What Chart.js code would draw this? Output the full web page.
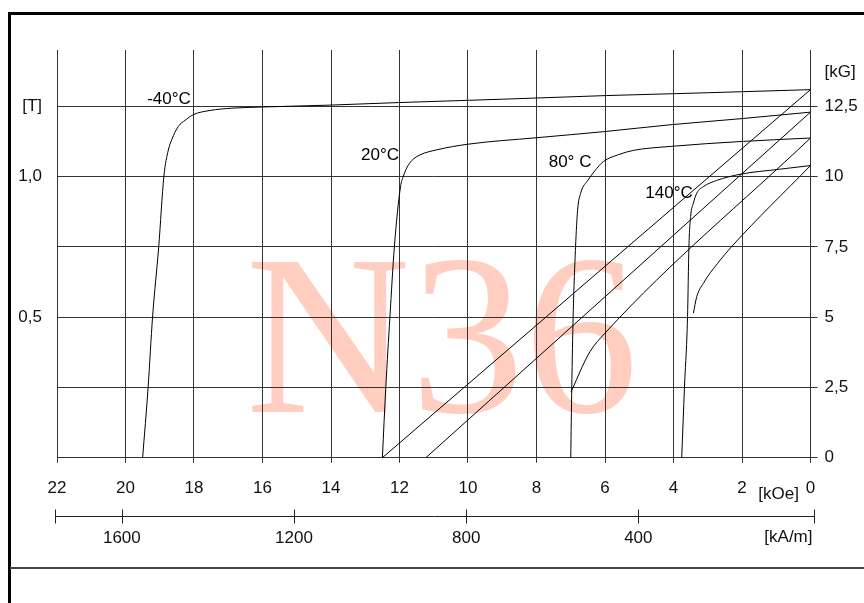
<!DOCTYPE html>
<html lang="en">
<head>
    <title>N36 demagnetization curves</title>
    <script src="https://cdn.jsdelivr.net/npm/chart.js"></script>
    <style>
        html, body {
            margin: 0;
            padding: 0;
            background: white;
        }

        #wrap {
            position: relative;
            width: 864px;
            height: 603px;
            overflow: hidden;
        }

        #frame {
            position: absolute;
            left: 8px;
            top: 12px;
            width: 900px;
            height: 700px;
            border-left: 3px solid #000;
            border-top: 3px solid #000;
        }

        #bottomLine {
            position: absolute;
            left: 10px;
            top: 567px;
            width: 900px;
            height: 2px;
            background: #444;
        }

        canvas {
            position: absolute;
            left: 0;
            top: 0;
        }
    </style>
</head>
<body>

    <div id="wrap">
        <div id="frame"></div>
        <div id="bottomLine"></div>
        <canvas id="bhChart" width="864" height="603"></canvas>
    </div>

    <script>
        // H in kOe, B/J in kG (right axis); 1 T = 10 kG
        const hTicks = [0, 2, 4, 6, 8, 10, 12, 14, 16, 18, 20, 22];
        const kGTicks = [0, 2.5, 5, 7.5, 10, 12.5];
        const teslaTicks = [0.5, 1.0];
        const kAmTicks = [400, 800, 1200, 1600];
        const temps = ['-40°C', '20°C', '80° C', '140°C'];

        // intrinsic curves
        const jM40H = [19.5, 19.34, 19.21, 19.03, 18.88, 18.75, 18.65, 18.46, 18.26, 18.02, 17.53, 16.9, 16.07, 14.03, 12.04, 9.0, 5.95, 3.0, 0];
        const jM40B = [0, 2.5, 5, 7.5, 10, 10.94, 11.31, 11.78, 12.0, 12.2, 12.35, 12.43, 12.47, 12.54, 12.63, 12.75, 12.88, 12.98, 13.09];
        const j20H = [12.5, 12.4, 12.28, 12.15, 11.97, 11.89, 11.79, 11.64, 11.4, 10.91, 10.0, 8.0, 6.0, 4.1, 2.0, 0];
        const j20B = [0, 2.5, 5, 7.5, 9.64, 10.0, 10.3, 10.57, 10.77, 10.95, 11.15, 11.38, 11.6, 11.84, 12.06, 12.29];
        const j80H = [7.0, 6.97, 6.93, 6.86, 6.8, 6.71, 6.49, 6.3, 6.05, 5.6, 5.17, 4.1, 1.96, 0];
        const j80B = [0, 2.5, 5.02, 7.49, 8.8, 9.41, 9.88, 10.2, 10.53, 10.78, 10.93, 11.07, 11.25, 11.37];
        const j140H = [3.76, 3.68, 3.59, 3.55, 3.5, 3.42, 3.32, 3.13, 2.74, 2.06, 0.9, 0];
        const j140B = [0, 2.5, 5.02, 7.49, 8.58, 9.05, 9.41, 9.64, 9.86, 10.08, 10.26, 10.39];

        // normal curves
        const bM40H = [12.5, 0];
        const bM40B = [0, 13.09];
        const b20H = [11.23, 0];
        const b20B = [0, 12.29];
        const b80H = [6.99, 6.93, 6.73, 6.44, 6.0, 0];
        const b80B = [2.35, 2.5, 3.06, 3.77, 4.43, 11.37];
        const b140H = [3.42, 3.32, 3.13, 2.72, 2.3, 0];
        const b140B = [5.14, 5.73, 6.2, 6.9, 7.51, 10.39];

        const KAM_PER_KOE = 79.5775;
        const FONT = "'Liberation Sans', Arial, sans-serif";

        // where the temperature labels sit (kOe, kG)
        const labelSpots = [[18.73, 12.75], [12.57, 10.77], [7.02, 10.49], [4.13, 9.42]];

        function toPoints(h, b) {
            return h.map((v, i) => ({ x: v, y: b[i] }));
        }

        function curve(h, b) {
            return {
                data: toPoints(h, b),
                borderColor: '#000',
                borderWidth: 1,
                pointRadius: 0,
                fill: false,
                cubicInterpolationMode: 'monotone',
                xAxisID: 'x',
                yAxisID: 'y'
            };
        }

        const fmt = v => String(v).replace('.', ',');

        const decorations = {
            id: 'decorations',
            beforeDraw(chart) {
                const ctx = chart.ctx;
                const a = chart.chartArea;
                ctx.save();
                ctx.fillStyle = 'rgb(255,206,192)';
                ctx.font = "228px 'Liberation Serif', 'Times New Roman', serif";
                ctx.textAlign = 'center';
                ctx.textBaseline = 'alphabetic';
                ctx.fillText('N36', 442, a.bottom - 46);
                ctx.restore();
            },
            afterDraw(chart) {
                const ctx = chart.ctx;
                const x = chart.scales.x;
                const y = chart.scales.y;
                const x2 = chart.scales.x2;
                ctx.save();
                ctx.fillStyle = '#000';
                ctx.font = '17px ' + FONT;
                ctx.textAlign = 'center';
                ctx.textBaseline = 'middle';
                temps.forEach((t, i) => {
                    ctx.fillText(t, x.getPixelForValue(labelSpots[i][0]), y.getPixelForValue(labelSpots[i][1]));
                });

                ctx.fillStyle = '#111';
                ctx.fillText('[kOe]', x.getPixelForValue(0.93), y.bottom + 37);

                // kA/m axis line with crossing ticks
                const ly = Math.round(x2.top) + 0.5;
                ctx.strokeStyle = '#222';
                ctx.lineWidth = 1;
                ctx.beginPath();
                ctx.moveTo(x2.left - 2, ly);
                ctx.lineTo(x2.right + 4, ly);
                const marks = [x2.left - 2, x2.right + 3.5].concat(kAmTicks.map(v => x2.getPixelForValue(v)));
                marks.forEach(px => {
                    const p = Math.round(px) + 0.5;
                    ctx.moveTo(p, ly - 7);
                    ctx.lineTo(p, ly + 7);
                });
                ctx.stroke();

                ctx.textAlign = 'right';
                ctx.fillText('[kA/m]', x2.right + 2, ly + 21);
                ctx.restore();
            }
        };

        new Chart(document.getElementById('bhChart').getContext('2d'), {
            type: 'line',
            data: {
                datasets: [
                    curve(jM40H, jM40B), curve(j20H, j20B), curve(j80H, j80B), curve(j140H, j140B),
                    curve(bM40H, bM40B), curve(b20H, b20B), curve(b80H, b80B), curve(b140H, b140B)
                ]
            },
            plugins: [decorations],
            options: {
                responsive: false,
                animation: false,
                layout: { padding: { top: 50, left: 0, right: 0, bottom: 0 } },
                plugins: {
                    legend: { display: false },
                    tooltip: { enabled: false }
                },
                scales: {
                    x: {
                        type: 'linear',
                        position: 'bottom',
                        reverse: true,
                        min: 0,
                        max: 22,
                        afterBuildTicks: s => { s.ticks = hTicks.map(v => ({ value: v })); },
                        afterFit: s => { s.height = 58; },
                        ticks: {
                            font: { family: FONT, size: 17 },
                            color: '#111',
                            padding: 15,
                            callback: v => String(v)
                        },
                        grid: { color: '#333', lineWidth: 1, tickLength: 5 },
                        border: { color: '#333' }
                    },
                    x2: {
                        type: 'linear',
                        position: 'bottom',
                        reverse: true,
                        min: 0,
                        max: 22 * KAM_PER_KOE,
                        afterBuildTicks: s => { s.ticks = kAmTicks.map(v => ({ value: v })); },
                        afterFit: s => { s.height = 87.3; },
                        ticks: {
                            font: { family: FONT, size: 17 },
                            color: '#111',
                            padding: 4,
                            callback: v => String(v)
                        },
                        grid: { display: false },
                        border: { display: false }
                    },
                    y: {
                        type: 'linear',
                        position: 'right',
                        min: 0,
                        max: 14.5,
                        afterBuildTicks: s => {
                            s.ticks = kGTicks.concat([13.69]).map(v => ({ value: v }));
                        },
                        afterFit: s => { s.width = 53.5; },
                        ticks: {
                            font: { family: FONT, size: 17 },
                            color: '#111',
                            padding: 7,
                            callback: v => v > 13 ? '[kG]' : fmt(v)
                        },
                        grid: {
                            color: c => (c.tick && c.tick.value > 13) ? 'rgba(0,0,0,0)' : '#333',
                            lineWidth: 1,
                            tickLength: 7
                        },
                        border: { color: '#333' }
                    },
                    yT: {
                        type: 'linear',
                        position: 'left',
                        min: 0,
                        max: 1.45,
                        afterBuildTicks: s => {
                            s.ticks = teslaTicks.concat([1.25]).map(v => ({ value: v }));
                        },
                        afterFit: s => { s.width = 57; },
                        ticks: {
                            font: { family: FONT, size: 17 },
                            color: '#111',
                            padding: 7,
                            callback: v => v === 1.25 ? '[T]' : v.toFixed(1).replace('.', ',')
                        },
                        grid: { display: false },
                        border: { display: false }
                    }
                }
            }
        });
    </script>

</body>
</html>
